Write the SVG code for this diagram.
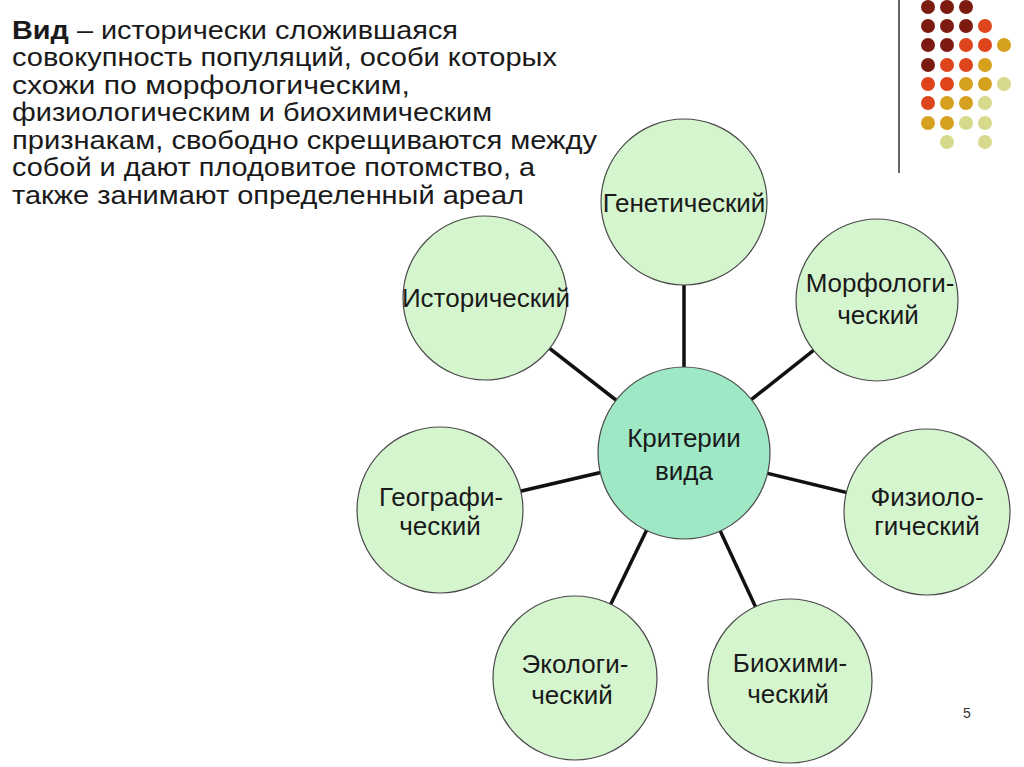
<svg xmlns="http://www.w3.org/2000/svg" width="1024" height="767" viewBox="0 0 1024 767">
<defs>
<style>
.title{font-family:"Liberation Sans",Arial,sans-serif;font-size:25px;fill:#1a1a1a}
.lbl{font-family:"Liberation Sans",Arial,sans-serif;font-size:26px;fill:#1a1a1a;text-anchor:middle}
.node{fill:#d5f5cf;stroke:#4a4a4a;stroke-width:1.2}
.hub{fill:#9fe8c6;stroke:#4a4a4a;stroke-width:1.2}
.conn line{stroke:#111;stroke-width:3.5}
.d1{fill:#7d1b10}.d2{fill:#df451c}.d3{fill:#d6a11e}.d4{fill:#d7d98c}
</style>
</defs>
<rect width="1024" height="767" fill="#ffffff"/>
<g id="decor">
<line x1="899" y1="0" x2="899" y2="173" stroke="#333" stroke-width="1.5"/>
<circle class="d1" cx="928" cy="7" r="7"/><circle class="d1" cx="947" cy="7" r="7"/><circle class="d1" cx="966" cy="7" r="7"/>
<circle class="d1" cx="928" cy="26" r="7"/><circle class="d1" cx="947" cy="26" r="7"/><circle class="d1" cx="966" cy="26" r="7"/><circle class="d2" cx="985" cy="26" r="7"/>
<circle class="d1" cx="928" cy="45" r="7"/><circle class="d1" cx="947" cy="45" r="7"/><circle class="d2" cx="966" cy="45" r="7"/><circle class="d2" cx="985" cy="45" r="7"/><circle class="d3" cx="1004" cy="45" r="7"/>
<circle class="d1" cx="928" cy="65" r="7"/><circle class="d2" cx="947" cy="65" r="7"/><circle class="d2" cx="966" cy="65" r="7"/><circle class="d3" cx="985" cy="65" r="7"/>
<circle class="d2" cx="928" cy="84" r="7"/><circle class="d2" cx="947" cy="84" r="7"/><circle class="d3" cx="966" cy="84" r="7"/><circle class="d3" cx="985" cy="84" r="7"/><circle class="d4" cx="1004" cy="84" r="7"/>
<circle class="d2" cx="928" cy="103" r="7"/><circle class="d3" cx="947" cy="103" r="7"/><circle class="d3" cx="966" cy="103" r="7"/><circle class="d4" cx="985" cy="103" r="7"/>
<circle class="d3" cx="928" cy="123" r="7"/><circle class="d3" cx="947" cy="123" r="7"/><circle class="d4" cx="966" cy="123" r="7"/><circle class="d4" cx="985" cy="123" r="7"/>
<circle class="d4" cx="947" cy="142" r="7"/><circle class="d4" cx="985" cy="142" r="7"/>
</g>
<g id="title">
<text class="title" x="12" y="39" textLength="446" lengthAdjust="spacingAndGlyphs"><tspan font-weight="bold">Вид</tspan> – исторически сложившаяся</text>
<text class="title" x="12" y="66" textLength="545" lengthAdjust="spacingAndGlyphs">совокупность популяций, особи которых</text>
<text class="title" x="12" y="94" textLength="398" lengthAdjust="spacingAndGlyphs">схожи по морфологическим,</text>
<text class="title" x="12" y="121" textLength="480" lengthAdjust="spacingAndGlyphs">физиологическим и биохимическим</text>
<text class="title" x="12" y="149" textLength="585" lengthAdjust="spacingAndGlyphs">признакам, свободно скрещиваются между</text>
<text class="title" x="12" y="176" textLength="523" lengthAdjust="spacingAndGlyphs">собой и дают плодовитое потомство, а</text>
<text class="title" x="12" y="204" textLength="512" lengthAdjust="spacingAndGlyphs">также занимают определенный ареал</text>
</g>
<g id="connectors" class="conn">
<line x1="684" y1="453" x2="684" y2="202"/>
<line x1="684" y1="453" x2="485" y2="298"/>
<line x1="684" y1="453" x2="877" y2="300"/>
<line x1="684" y1="453" x2="440" y2="510"/>
<line x1="684" y1="453" x2="927" y2="512"/>
<line x1="684" y1="453" x2="575" y2="678"/>
<line x1="684" y1="453" x2="790" y2="681"/>
</g>
<g id="genetic"><circle class="node" cx="684" cy="202" r="83"/><text class="lbl" x="684" y="212">Генетический</text></g>
<g id="historical"><circle class="node" cx="485" cy="298" r="82"/><text class="lbl" x="486" y="307">Исторический</text></g>
<g id="morphological"><circle class="node" cx="877" cy="300" r="81"/><text class="lbl" x="880" y="292">Морфологи-</text><text class="lbl" x="878" y="324">ческий</text></g>
<g id="center"><circle class="hub" cx="684" cy="453" r="86"/><text class="lbl" x="684" y="447">Критерии</text><text class="lbl" x="684" y="480">вида</text></g>
<g id="geographic"><circle class="node" cx="440" cy="510" r="83"/><text class="lbl" x="441" y="506">Географи-</text><text class="lbl" x="440" y="535">ческий</text></g>
<g id="physiological"><circle class="node" cx="927" cy="512" r="83"/><text class="lbl" x="927" y="506">Физиоло-</text><text class="lbl" x="927" y="535">гический</text></g>
<g id="ecological"><circle class="node" cx="575" cy="678" r="82"/><text class="lbl" x="575" y="673">Экологи-</text><text class="lbl" x="572" y="704">ческий</text></g>
<g id="biochemical"><circle class="node" cx="790" cy="681" r="82"/><text class="lbl" x="790" y="672">Биохими-</text><text class="lbl" x="788" y="703">ческий</text></g>
<text x="967" y="718" font-family="Liberation Sans,Arial,sans-serif" font-size="14" fill="#333" text-anchor="middle">5</text>
</svg>
